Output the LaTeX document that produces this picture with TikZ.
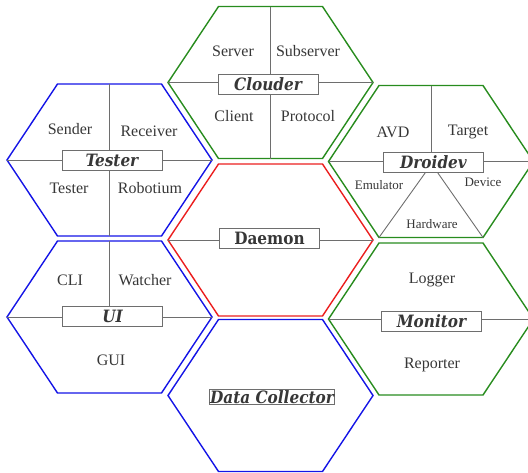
\documentclass[tikz,border=0pt]{standalone}
\usepackage{fontspec}
\setmainfont{Liberation Serif}
\newfontfamily\titlefont{DejaVu Serif Condensed}
\usetikzlibrary{positioning}

\definecolor{hexgreen}{RGB}{40,140,30}
\definecolor{hexblue}{RGB}{20,20,230}
\definecolor{hexred}{RGB}{235,30,30}
\definecolor{linegray}{RGB}{110,110,110}
\definecolor{textgray}{RGB}{55,55,55}

% hexagon: name, centre x, centre y, colour
\newcommand{\hexa}[4]{%
  \begin{scope}[shift={(#2,#3)}]
    \coordinate (#1-l) at (-102.5,0);
    \coordinate (#1-r) at (102.5,0);
    \coordinate (#1-tl) at (-52,-76);
    \coordinate (#1-tr) at (52,-76);
    \coordinate (#1-bl) at (-52,76);
    \coordinate (#1-br) at (52,76);
    \coordinate (#1-t) at (0,-76);
    \coordinate (#1-b) at (0,76);
    \draw[hexline,#4] (#1-l) -- (#1-tl) -- (#1-tr) -- (#1-r) -- (#1-br) -- (#1-bl) -- cycle;
  \end{scope}}

\begin{document}
\begin{tikzpicture}[x=1pt,y=-1pt]
  \tikzset{hexline/.style = {line width=1.4pt, line join=miter},
           inner/.style = {draw=linegray, line width=0.9pt},
           item/.style = {text=textgray, font=\fontsize{16}{18}\selectfont, inner sep=1pt},
           small/.style = {text=textgray, font=\fontsize{13}{15}\selectfont, inner sep=1pt},
           title/.style = {draw=linegray, fill=white, line width=0.9pt, text=textgray,
                           minimum width=100pt, minimum height=20pt, inner sep=1pt,
                           font=\titlefont\bfseries\itshape\fontsize{17}{19}\selectfont}}
  \useasboundingbox (0,0) rectangle (528,472);

  \hexa{clouder}{270.5}{82.5}{hexgreen}
  \hexa{tester}{109.5}{160}{hexblue}
  \hexa{droidev}{431}{161.5}{hexgreen}
  \hexa{daemon}{270.5}{240}{hexred}
  \hexa{ui}{109.5}{317}{hexblue}
  \hexa{monitor}{431}{319}{hexgreen}
  \hexa{collector}{270.5}{395.5}{hexblue}

  % Clouder
  \draw[inner] (clouder-l) -- (clouder-r);
  \draw[inner] (clouder-t) -- (clouder-b);
  \node[title] (clouderbox) at (268,84) {Clouder};
  \node[item] (server) at (233,51) {Server};
  \node[item] (subserver) at (308,51) {Subserver};
  \node[item] (client) at (234,116) {Client};
  \node[item] (protocol) at (308,116) {Protocol};

  % Tester
  \draw[inner] (tester-l) -- (tester-r);
  \draw[inner] (tester-t) -- (tester-b);
  \node[title] (testerbox) at (112,160.5) {Tester};
  \node[item] (sender) at (70,129) {Sender};
  \node[item] (receiver) at (149,131) {Receiver};
  \node[item] (testeritem) at (69,188) {Tester};
  \node[item] (robotium) at (150,188) {Robotium};

  % Droidev
  \draw[inner] (droidev-l) -- (droidev-r);
  \node[title] (droidevbox) at (433.5,162) {Droidev};
  \draw[inner] (droidev-t) -- (droidevbox.north -| droidev-t);
  \draw[inner] ([xshift=-8pt]droidevbox.south) -- (droidev-bl);
  \draw[inner] ([xshift=4pt]droidevbox.south) -- (droidev-br);
  \node[item] (avd) at (393,132) {AVD};
  \node[item] (target) at (468,132) {Target};
  \node[small] (emulator) at (379,185) {Emulator};
  \node[small] (device) at (483,182) {Device};
  \node[small] (hardware) at (432,224) {Hardware};

  % Daemon
  \draw[inner] (daemon-l) -- (daemon-r);
  \node[title, font=\titlefont\bfseries\fontsize{17}{19}\selectfont] (daemonbox) at (269.5,238) {Daemon};

  % UI
  \draw[inner] (ui-l) -- (ui-r);
  \node[title] (uibox) at (112.5,316) {UI};
  \draw[inner] (ui-t) -- (uibox.north -| ui-t);
  \node[item] (cli) at (70,280) {CLI};
  \node[item] (watcher) at (145,280) {Watcher};
  \node[item] (gui) at (111,360) {GUI};

  % Monitor
  \draw[inner] (monitor-l) -- (monitor-r);
  \node[title] (monitorbox) at (431.5,321) {Monitor};
  \node[item] (logger) at (432,280) {Logger};
  \node[item] (reporter) at (432,365) {Reporter};

  % Data Collector
  \node[title, minimum width=0pt, minimum height=0pt] (collectorbox) at (272,397) {Data Collector};
\end{tikzpicture}
\end{document}
